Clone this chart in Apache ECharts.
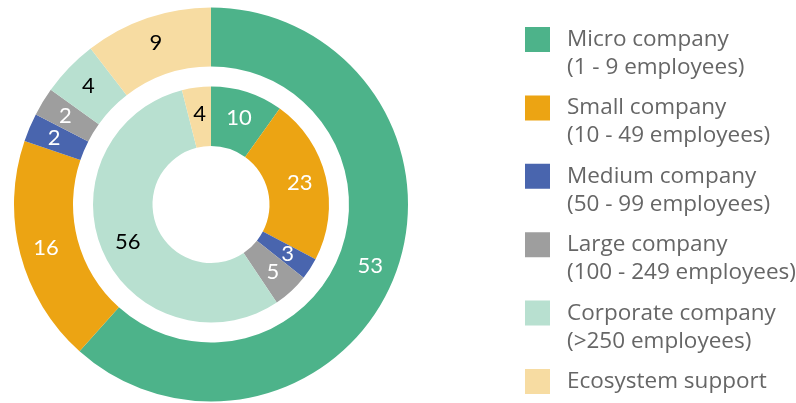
<!DOCTYPE html>
<html>
<head>
<meta charset="utf-8">
<script src="https://cdn.jsdelivr.net/npm/echarts@6/dist/echarts.min.js"></script>
<style>
  html, body { margin: 0; padding: 0; background: #fff; }
  #chart { width: 796px; height: 403px; }
</style>
</head>
<body>
<div id="chart"></div>
<script>
// Chart data
const categories = ['Micro company', 'Small company', 'Medium company', 'Large company', 'Corporate company', 'Ecosystem support'];
const subLabels = ['(1 - 9 employees)', '(10 - 49 employees)', '(50 - 99 employees)', '(100 - 249 employees)', '(>250 employees)', ' '];
const outerValues = [53, 16, 2, 2, 4, 9];
const innerValues = [10, 23, 3, 5, 56, 4];
const colors = ['#4db38a', '#eca413', '#4965ae', '#9e9e9e', '#b8e0d0', '#f7dca2'];
const labelColors = ['#fff', '#fff', '#fff', '#fff', '#000', '#000'];

const chart = echarts.init(document.getElementById('chart'));

// Build pie data items with per-slice label colours
const toItems = (values) => values.map((v, i) => ({
  name: categories[i],
  value: v,
  itemStyle: { color: colors[i] },
  label: { color: labelColors[i] }
}));

const pieBase = {
  type: 'pie',
  center: [211, 204.5],
  startAngle: 90,
  clockwise: true,
  avoidLabelOverlap: false,
  silent: true,
  label: {
    show: true,
    position: 'inside',
    formatter: '{c}',
    fontFamily: 'Lato, sans-serif',
    fontSize: 22
  },
  labelLine: { show: false },
  labelLayout: { hideOverlap: false },
  emphasis: { disabled: true }
};

// square sits at the top of a taller icon box so it lines up with the first text line
const squareIcon = 'path://M0,1.5h25v25h-25z M0,0h0.01v0.01h-0.01z M0,55.99h0.01v0.01h-0.01z';

chart.setOption({
  animation: false,
  color: colors,
  legend: {
    orient: 'vertical',
    left: 525,
    top: 24.5,
    height: 420,
    padding: 0,
    icon: squareIcon,
    itemWidth: 25,
    itemHeight: 56,
    itemGap: 10.4,
    selectedMode: false,
    data: categories,
    formatter: (name) => name + '\n' + subLabels[categories.indexOf(name)],
    textStyle: {
      fontFamily: 'Open Sans, sans-serif',
      fontSize: 22.5,
      lineHeight: 28,
      color: '#666',
      padding: [2, 0, 0, 12]
    }
  },
  series: [
    Object.assign({}, pieBase, {
      name: 'Outer',
      radius: [138, 197],
      data: toItems(outerValues)
    }),
    Object.assign({}, pieBase, {
      name: 'Inner',
      radius: [58.5, 118],
      data: toItems(innerValues)
    })
  ]
});
</script>
</body>
</html>
